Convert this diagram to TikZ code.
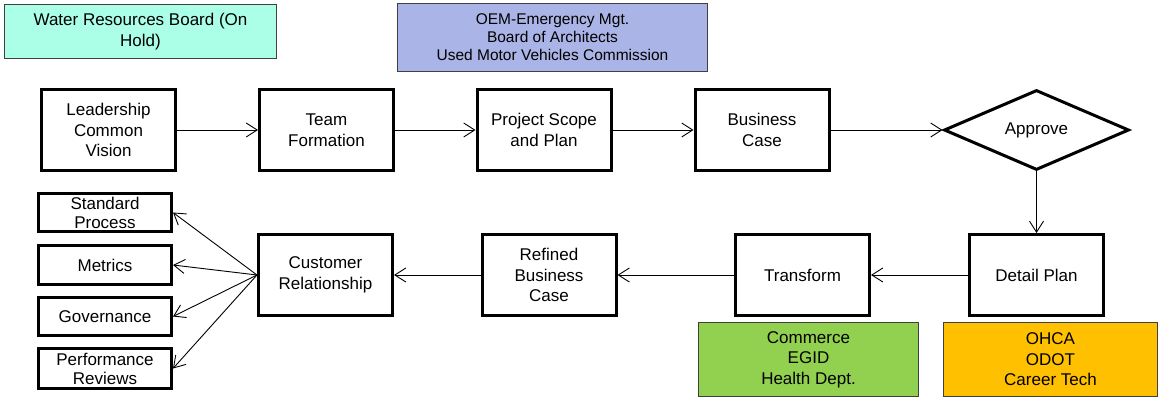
\documentclass[tikz,border=0pt]{standalone}
\usepackage{fontspec}
\setmainfont{Liberation Sans}
\usetikzlibrary{shapes.geometric,arrows.meta}
\definecolor{aqua}{RGB}{170,255,230}
\definecolor{peri}{RGB}{170,180,230}
\definecolor{lgreen}{RGB}{146,208,80}
\definecolor{amber}{RGB}{255,192,0}
\tikzset{
  stepbox/.style={draw=black, line width=3pt, rectangle, align=center, inner sep=0pt,
    minimum width=134pt, minimum height=81pt, font=\fontsize{17}{20.5}\selectfont},
  smallbox/.style={draw=black, line width=3pt, rectangle, align=center, inner sep=0pt,
    minimum width=133pt, font=\fontsize{17}{19}\selectfont},
  infobox/.style={draw=black!75, line width=1.2pt, rectangle, align=center, inner sep=0pt,
    font=\fontsize{17}{20.5}\selectfont},
  flow/.style={draw=black, line width=0.9pt, -{Straight Barb[length=11pt,width=14pt,line width=0.9pt]}},
}
\begin{document}
\begin{tikzpicture}[x=1pt,y=-1pt]
\useasboundingbox (0,0) rectangle (1160,398);
% info boxes
\node[infobox, fill=aqua, minimum width=272pt, minimum height=54pt] (water) at (140.5,31.5) {Water Resources Board (On\\Hold)};
\node[infobox, fill=peri, minimum width=310pt, minimum height=68pt, font=\fontsize{15.5}{18}\selectfont] (oem) at (552.5,37.5) {OEM-Emergency Mgt.\\Board of Architects\\Used Motor Vehicles Commission};
\node[infobox, fill=lgreen, minimum width=220pt, minimum height=74pt] (comm) at (808.5,359.5) {Commerce\\EGID\\Health Dept.};
\node[infobox, fill=amber, minimum width=214pt, minimum height=74pt] (ohca) at (1050.5,359.5) {OHCA\\ODOT\\Career Tech};
% top row
\node[stepbox] (lead) at (108.5,130) {Leadership\\Common\\Vision};
\node[stepbox] (team) at (326.5,130) {Team\\Formation};
\node[stepbox] (scope) at (544,130) {Project Scope\\and Plan};
\node[stepbox] (bcase) at (762,130) {Business\\Case};
\node[diamond, draw=black, line width=3pt, minimum width=185pt, minimum height=80pt, inner sep=0pt, font=\fontsize{17}{20.5}\selectfont] (approve) at (1036.5,130) {Approve};
% bottom row
\node[stepbox] (detail) at (1036.5,275) {Detail Plan};
\node[stepbox] (trans) at (802.5,275) {Transform};
\node[stepbox] (refined) at (549,275) {Refined\\Business\\Case};
\node[stepbox] (cust) at (325.5,275) {Customer\\Relationship};
% left stack
\node[smallbox, minimum height=38pt] (stdp) at (105,212.5) {Standard\\Process};
\node[smallbox, minimum height=39pt] (metr) at (105,265) {Metrics};
\node[smallbox, minimum height=38pt] (gov) at (105,316.5) {Governance};
\node[smallbox, minimum height=40pt] (perf) at (105,368.5) {Performance\\Reviews};
% connectors
\draw[flow] (lead.east) -- (team.west);
\draw[flow] (team.east) -- (scope.west);
\draw[flow] (scope.east) -- (bcase.west);
\draw[flow] (bcase.east) -- (approve.west);
\draw[flow] (approve.south) -- (detail.north);
\draw[flow] (detail.west) -- (trans.east);
\draw[flow] (trans.west) -- (refined.east);
\draw[flow] (refined.west) -- (cust.east);
\draw[flow] (cust.west) -- (stdp.east);
\draw[flow] (cust.west) -- (metr.east);
\draw[flow] (cust.west) -- (gov.east);
\draw[flow] (cust.west) -- (perf.east);
\end{tikzpicture}
\end{document}
